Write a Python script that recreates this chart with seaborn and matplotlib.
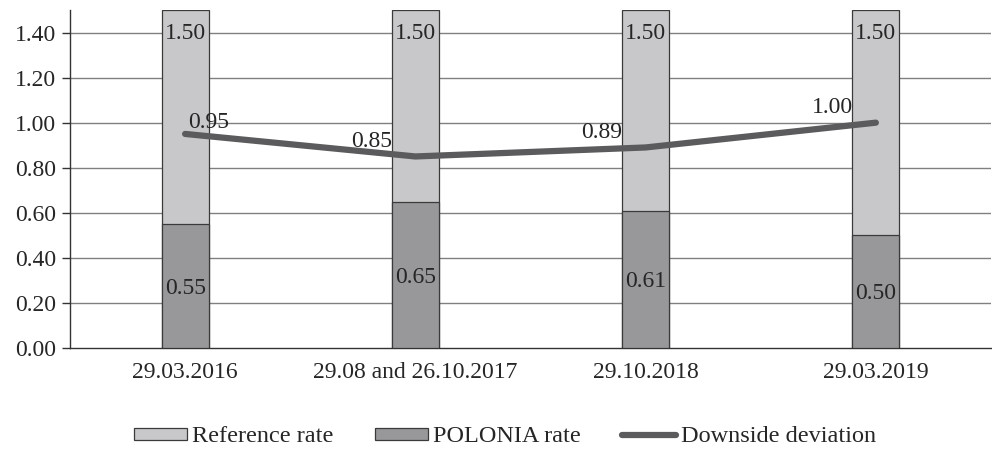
import matplotlib
matplotlib.use("Agg")
import matplotlib.pyplot as plt
from matplotlib.patches import Patch
from matplotlib.lines import Line2D
import numpy as np
import pandas as pd
import seaborn as sns

dates = ["29.03.2016", "29.08 and 26.10.2017", "29.10.2018", "29.03.2019"]
reference_rate = [1.50, 1.50, 1.50, 1.50]
polonia_rate = [0.55, 0.65, 0.61, 0.50]
downside_deviation = [0.95, 0.85, 0.89, 1.00]

sns.set_theme(style="white")
plt.rcParams["font.family"] = ["Liberation Serif", "DejaVu Serif"]

light = "#c8c8ca"
dark = "#98989b"
line_col = "#5b5b5d"
edge = "#3a3a3a"

df = pd.DataFrame({"date": dates, "ref": reference_rate,
                   "pol": polonia_rate, "dev": downside_deviation})

fig = plt.figure(figsize=(9.92, 4.53), dpi=100)
ax = fig.add_axes([70 / 992, 1 - 348 / 453, 921 / 992, 338 / 453])

for y in np.arange(0.2, 1.41, 0.2):
    ax.axhline(y, color="#808080", lw=1.0, zorder=0)

sns.barplot(data=df, x="date", y="ref", color=light, width=0.205,
            edgecolor=edge, linewidth=0.9, saturation=1, ax=ax, zorder=2)
sns.barplot(data=df, x="date", y="pol", color=dark, width=0.205,
            edgecolor=edge, linewidth=0.9, saturation=1, ax=ax, zorder=3)
sns.lineplot(data=df, x="date", y="dev", color=line_col, lw=4.5,
             sort=False, ax=ax, zorder=4, legend=False)

fs = 17
for i, (r, p, d) in enumerate(zip(reference_rate, polonia_rate, downside_deviation)):
    ax.text(i, r - 0.105, f"{r:.2f}", ha="center", va="center", fontsize=fs, zorder=5)
    ax.text(i, p / 2 - 0.01, f"{p:.2f}", ha="center", va="center", fontsize=fs, zorder=5)
    if i == 0:
        ax.text(i + 0.1, d + 0.005, f"{d:.2f}", ha="center", va="bottom", fontsize=fs, zorder=5)
    else:
        ax.text(i - 0.19, d + 0.02, f"{d:.2f}", ha="center", va="bottom", fontsize=fs, zorder=5)

ax.set_xlim(-0.5, 3.5)
ax.set_ylim(0, 1.5)
ax.set_yticks(np.arange(0, 1.41, 0.2))
ax.set_yticklabels([f"{v:.2f}" for v in np.arange(0, 1.41, 0.2)], fontsize=fs)
ax.set_xticks(range(4))
ax.set_xticklabels(dates, fontsize=fs)
ax.set_xticks(np.arange(-0.5, 3.6, 1), minor=True)
ax.tick_params(axis="x", which="major", length=0, pad=10)
ax.tick_params(axis="x", which="minor", length=5, width=1, color="#333333", direction="out")
ax.tick_params(axis="y", length=6, width=1, color="#333333", direction="out", left=True, pad=4)
ax.set_xlabel("")
ax.set_ylabel("")

for s in ["top", "right"]:
    ax.spines[s].set_visible(False)
for s in ["left", "bottom"]:
    ax.spines[s].set_color("#333333")
    ax.spines[s].set_linewidth(1)

handles = [
    Patch(facecolor=light, edgecolor=edge, linewidth=0.9, label="Reference rate"),
    Patch(facecolor=dark, edgecolor=edge, linewidth=0.9, label="POLONIA rate"),
    Line2D([0], [0], color=line_col, lw=4.5, label="Downside deviation"),
]
fig.legend(handles=handles, loc="center", bbox_to_anchor=(0.509, 1 - 437 / 453), ncol=3,
           frameon=False, fontsize=17.5, handlelength=2.2, handleheight=0.35,
           handletextpad=0.2, columnspacing=1.7)

fig.savefig("out.png", dpi=100)
